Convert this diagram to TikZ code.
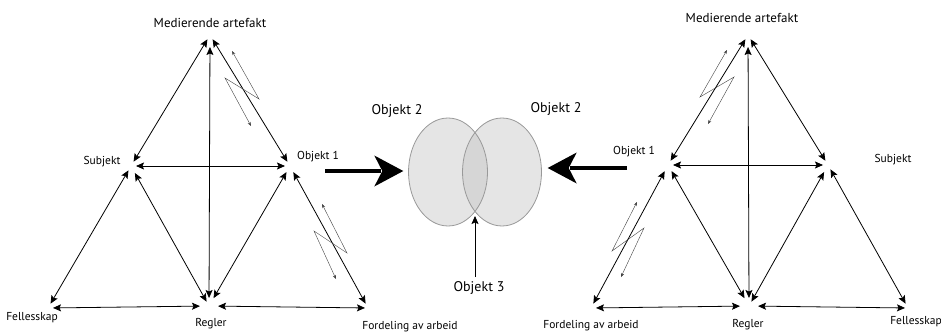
\documentclass[tikz,border=0pt]{standalone}
\usepackage{fontspec}
\setmainfont{PT Sans}
\usetikzlibrary{arrows.meta,shapes.geometric}
\begin{document}
\begin{tikzpicture}[x=1pt,y=-1pt,
  edge/.style={{Stealth[length=8pt,width=7pt,inset=1.5pt]}-{Stealth[length=8pt,width=7pt,inset=1.5pt]},
    line width=0.8pt, shorten <=5pt, shorten >=5pt},
  zig/.style={{Stealth[length=4pt,width=3pt]}-{Stealth[length=4pt,width=3pt]},
    line width=0.4pt, black!75, line join=miter},
  shaft/.style={line width=4pt},
  lbl/.style={inner sep=0pt, font=\fontsize{11.5}{13}\selectfont},
  toplbl/.style={inner sep=0pt, font=\fontsize{13}{15}\selectfont},
  midlbl/.style={inner sep=0pt, font=\fontsize{14}{16}\selectfont},
  blob/.style={ellipse, inner sep=0pt, minimum width=79pt, minimum height=108pt, fill=black!10},
  outline/.style={draw=black!40, line width=0.8pt}
]
\useasboundingbox (0,0) rectangle (941,334);

% ---------- left triangle ----------
\coordinate (LM) at (210,35);
\coordinate (LS) at (131,166);
\coordinate (LO) at (290,166);
\coordinate (LF) at (48,308);
\coordinate (LR) at (209,306);
\coordinate (LD) at (368,308);

\node[toplbl] (lmt) at (210,23) {Medierende artefakt};
\node[lbl] (lst) at (102,162) {Subjekt};
\node[lbl] (lot) at (318,157) {Objekt 1};
\node[lbl] (lft) at (32,318) {Fellesskap};
\node[lbl] (lrt) at (211,324) {Regler};
\node[lbl] (ldt) at (410,327) {Fordeling av arbeid};

\draw[edge] (LM) -- (LS);
\draw[edge] (LM) -- (LO);
\draw[edge, shorten <=8pt, shorten >=12pt] (LR) -- (LM);
\draw[edge] (LS) -- (LO);
\draw[edge] (LS) -- (LF);
\draw[edge, shorten <=8pt] (LS) -- (LR);
\draw[edge, shorten <=7pt, shorten >=9pt] (LO) -- (LR);
\draw[edge, shorten <=7pt] (LO) -- (LD);
\draw[edge, shorten >=9pt] (LF) -- (LR);
\draw[edge, shorten <=9pt, shorten >=3pt] (LR) -- (LD);

\draw[zig] (232,51) -- (259,99) -- (225,78) -- (251,126);
\draw[zig] (322,204) -- (347,253) -- (314,231) -- (336,279);

% ---------- right triangle ----------
\coordinate (RM) at (748,35);
\coordinate (RO) at (668,165);
\coordinate (RS) at (828,165);
\coordinate (RD) at (591,308);
\coordinate (RR) at (749,306);
\coordinate (RF) at (908,308);

\node[toplbl] (rmt) at (742,18) {Medierende artefakt};
\node[lbl] (rot) at (634,152) {Objekt 1};
\node[lbl] (rst) at (893,160) {Subjekt};
\node[lbl] (rdt) at (591,326) {Fordeling av arbeid};
\node[lbl] (rrt) at (748,325) {Regler};
\node[lbl] (rft) at (916,322) {Fellesskap};

\draw[edge] (RM) -- (RO);
\draw[edge] (RM) -- (RS);
\draw[edge, shorten <=8pt, shorten >=12pt] (RR) -- (RM);
\draw[edge] (RO) -- (RS);
\draw[edge, shorten <=7pt] (RO) -- (RD);
\draw[edge, shorten <=7pt, shorten >=9pt] (RO) -- (RR);
\draw[edge, shorten <=8pt] (RS) -- (RR);
\draw[edge] (RS) -- (RF);
\draw[edge, shorten >=9pt] (RD) -- (RR);
\draw[edge, shorten <=9pt, shorten >=3pt] (RR) -- (RF);

\draw[zig] (727,50) -- (700,97) -- (734,77) -- (708,124);
\draw[zig] (637,202) -- (612,251) -- (644,228) -- (621,277);

% ---------- middle ----------
\node[blob] (e1) at (448,172) {};
\node[blob] (e2) at (502,172) {};
\begin{scope}
  \clip (448,172) ellipse [x radius=39.5pt, y radius=54pt];
  \fill[black!16] (502,172) ellipse [x radius=39.5pt, y radius=54pt];
\end{scope}
\draw[outline] (448,172) ellipse [x radius=39.5pt, y radius=54pt];
\draw[outline] (502,172) ellipse [x radius=39.5pt, y radius=54pt];

\node[midlbl] (o2l) at (397,111) {Objekt 2};
\node[midlbl] (o2r) at (556,109) {Objekt 2};
\node[midlbl] (o3) at (479,288) {Objekt 3};

\coordinate (isect) at (475,216);
\coordinate (o3foot) at (475,277);
\draw[line width=0.8pt, -{Stealth[length=8pt,width=7pt,inset=1.5pt]}] (o3foot) -- (isect);

% big arrows pointing at the two ellipses
\coordinate (bigL) at (325,171);
\coordinate (bigR) at (627,168);
\coordinate (tipL) at ([xshift=-5pt]bigL -| e1.west);
\coordinate (tipR) at ([xshift=6pt]bigR -| e2.east);
\draw[shaft] (bigL) -- ([xshift=-22pt]tipL);
\fill (tipL) -- ++(-29,-15.5) -- ++(8,15.5) -- ++(-8,15.5) -- cycle;
\draw[shaft] (bigR) -- ([xshift=22pt]tipR);
\fill (tipR) -- ++(29,-15.5) -- ++(-8,15.5) -- ++(8,15.5) -- cycle;
\end{tikzpicture}
\end{document}
